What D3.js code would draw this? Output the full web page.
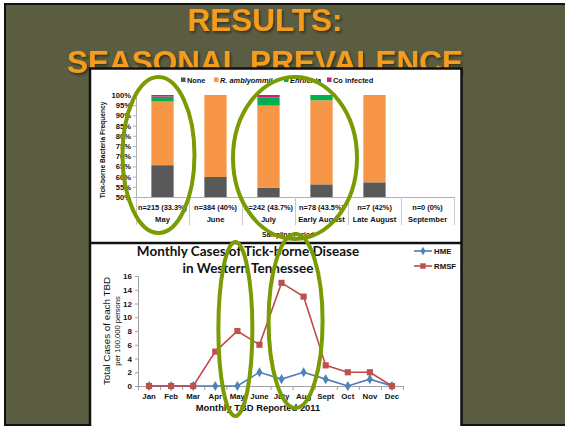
<!DOCTYPE html>
<html><head><meta charset="utf-8">
<script src="https://cdn.jsdelivr.net/npm/d3@7"></script>
<style>body{margin:0;background:#fff}svg{display:block}</style>
</head><body>
<svg id="c" width="565" height="426"></svg>
<script>
// Tick-borne bacteria frequency by sampling period (percent of ticks)
const periods = ["May", "June", "July", "Early August", "Late August", "September"];
const sampleLabels = ["n=215 (33.3%)", "n=384 (40%)", "n=242 (43.7%)", "n=78 (43.5%)", "n=7 (42%)", "n=0 (0%)"];
const noneVals = [65.6, 59.8, 54.6, 56.2, 57.2, 0];
const amblyommiiVals = [31.2, 40.2, 40.2, 41.2, 42.8, 0];
const ehrlichiaVals = [2.4, 0, 3.9, 2.6, 0, 0];
const coInfectedVals = [0.8, 0, 1.3, 0, 0, 0];
const pctTicks = [50, 55, 60, 65, 70, 75, 80, 85, 90, 95, 100];

// Monthly tick-borne disease cases, Western Tennessee 2011
const months = ["Jan", "Feb", "Mar", "Apr", "May", "June", "July", "Aug", "Sept", "Oct", "Nov", "Dec"];
const hmeCases = [0, 0, 0, 0, 0, 2, 1, 2, 1, 0, 1, 0];
const rmsfCases = [0, 0, 0, 5, 8, 6, 15, 13, 3, 2, 2, 0];
const caseTicks = [0, 2, 4, 6, 8, 10, 12, 14, 16];

const svg = d3.select("#c");
const ARIAL = "'Liberation Sans', Arial, sans-serif";
const GREEN = "#7a9b02";

// title shadow
const defs = svg.append("defs");
defs.append("filter").attr("id", "shadow").attr("x", "-5%").attr("y", "-20%").attr("width", "115%").attr("height", "150%")
  .append("feDropShadow").attr("dx", 1.5).attr("dy", 2).attr("stdDeviation", 0.8)
  .attr("flood-color", "#262716").attr("flood-opacity", 0.75);

// ---- slide background ----
svg.append("rect").attr("x", 5).attr("y", 4).attr("width", 562).attr("height", 421)
  .attr("fill", "#5b5d42").attr("stroke", "#111").attr("stroke-width", 2);

const titleLines = [{t: "RESULTS:", y: 31}, {t: "SEASONAL PREVALENCE", y: 73}];
titleLines.forEach(l => {
  svg.append("text").attr("x", 265).attr("y", l.y).attr("text-anchor", "middle")
    .attr("font-family", ARIAL).attr("font-weight", "bold").attr("font-size", 31.5)
    .attr("fill", "#f59c1d").attr("filter", "url(#shadow)").text(l.t);
});

// white panel holding both charts
svg.append("rect").attr("x", 90).attr("y", 68.5).attr("width", 371.5).attr("height", 360)
  .attr("fill", "#fff").attr("stroke", "#111").attr("stroke-width", 2.5);
svg.append("line").attr("x1", 90).attr("x2", 461.5).attr("y1", 243).attr("y2", 243)
  .attr("stroke", "#111").attr("stroke-width", 2.5);

// ================= top: stacked bar chart =================
const xTop = d3.scaleBand().domain(periods).range([136, 454]);
const yTop = d3.scaleLinear().domain([50, 100]).range([197, 95]);
const barW = xTop.bandwidth() * 0.42;

const keys = ["None", "R. amblyommii", "Ehrlichia", "Co infected"];
const colors = {"None": "#595959", "R. amblyommii": "#f79646", "Ehrlichia": "#00b050", "Co infected": "#d6197e"};
const rows = periods.map((p, i) => ({
  period: p, "None": noneVals[i], "R. amblyommii": amblyommiiVals[i],
  "Ehrlichia": ehrlichiaVals[i], "Co infected": coInfectedVals[i]
}));
const stacked = d3.stack().keys(keys)(rows);

defs.append("clipPath").attr("id", "plotTop").append("rect")
  .attr("x", 136).attr("y", yTop(100) - 1).attr("width", 318).attr("height", yTop(50) - yTop(100) + 1);

const gBars = svg.append("g").attr("clip-path", "url(#plotTop)");
stacked.forEach(s => {
  gBars.selectAll(null).data(s).join("rect")
    .attr("x", d => xTop(d.data.period) + (xTop.bandwidth() - barW) / 2)
    .attr("width", barW)
    .attr("y", d => yTop(d[1]))
    .attr("height", d => Math.max(0, yTop(d[0]) - yTop(d[1])))
    .attr("fill", colors[s.key]);
});

// y axis
const yAxisTop = d3.axisLeft(yTop).tickValues(pctTicks).tickFormat(d => d + "%").tickSize(3).tickPadding(2);
const gyT = svg.append("g").attr("transform", "translate(136,0)").call(yAxisTop);
gyT.select(".domain").attr("stroke", "#b0b0b0");
gyT.selectAll(".tick line").attr("stroke", "#b0b0b0");
gyT.selectAll("text").attr("font-family", ARIAL).attr("font-weight", "bold").attr("font-size", 7.6).attr("fill", "#111");

// category axis with two label rows and separators
svg.append("line").attr("x1", 136).attr("x2", 454).attr("y1", 197.5).attr("y2", 197.5).attr("stroke", "#b0b0b0");
const seps = periods.map(p => xTop(p)).concat([xTop.range()[1]]);
svg.selectAll(null).data(seps).join("line")
  .attr("x1", d => d + 0.5).attr("x2", d => d + 0.5).attr("y1", 197).attr("y2", 225)
  .attr("stroke", "#c8c8c8");
svg.selectAll(null).data(periods).join("text")
  .attr("x", d => xTop(d) + xTop.bandwidth() / 2).attr("y", 210).attr("text-anchor", "middle")
  .attr("font-family", ARIAL).attr("font-weight", "bold").attr("font-size", 7.4).attr("fill", "#111")
  .text((d, i) => sampleLabels[i]);
svg.selectAll(null).data(periods).join("text")
  .attr("x", d => xTop(d) + xTop.bandwidth() / 2).attr("y", 222).attr("text-anchor", "middle")
  .attr("font-family", ARIAL).attr("font-weight", "bold").attr("font-size", 7.6).attr("fill", "#111")
  .text(d => d);

svg.append("text").attr("x", 288).attr("y", 237).attr("text-anchor", "middle")
  .attr("font-family", ARIAL).attr("font-weight", "bold").attr("font-size", 6.6).attr("fill", "#111")
  .text("Sampling Period");
svg.append("text").attr("transform", "translate(105,150) rotate(-90)").attr("text-anchor", "middle")
  .attr("font-family", ARIAL).attr("font-weight", "bold").attr("font-size", 6.6).attr("fill", "#111")
  .text("Tick-borne Bacteria Frequency");

// legend
const legX = [181, 214, 284, 327];
keys.forEach((k, i) => {
  svg.append("rect").attr("x", legX[i]).attr("y", 77.5).attr("width", 4.5).attr("height", 4.5).attr("fill", colors[k]);
  svg.append("text").attr("x", legX[i] + 6).attr("y", 82.5)
    .attr("font-family", ARIAL).attr("font-weight", "bold").attr("font-size", 7.4).attr("fill", "#111")
    .attr("font-style", (k === "R. amblyommii" || k === "Ehrlichia") ? "italic" : "normal")
    .text(k);
});

// ================= bottom: line chart =================
const xB = d3.scaleBand().domain(months).range([138, 403]);
const yB = d3.scaleLinear().domain([0, 16]).range([386, 276]);
const cx = m => xB(m) + xB.bandwidth() / 2;

const gyB = svg.append("g").attr("transform", "translate(138,0)")
  .call(d3.axisLeft(yB).tickValues(caseTicks).tickSize(3).tickPadding(3));
gyB.select(".domain").attr("stroke", "#a0a0a0");
gyB.selectAll(".tick line").attr("stroke", "#a0a0a0");
gyB.selectAll("text").attr("font-family", ARIAL).attr("font-weight", "bold").attr("font-size", 8).attr("fill", "#111");

svg.append("line").attr("x1", 138).attr("x2", 403).attr("y1", 386.5).attr("y2", 386.5).attr("stroke", "#a0a0a0");
svg.selectAll(null).data(months.map(m => xB(m)).concat([403])).join("line")
  .attr("x1", d => d + 0.5).attr("x2", d => d + 0.5).attr("y1", 386).attr("y2", 390).attr("stroke", "#a0a0a0");
svg.selectAll(null).data(months).join("text")
  .attr("x", d => cx(d)).attr("y", 399).attr("text-anchor", "middle")
  .attr("font-family", ARIAL).attr("font-weight", "bold").attr("font-size", 7.8).attr("fill", "#111")
  .text(d => d);

svg.append("text").attr("x", 258).attr("y", 411).attr("text-anchor", "middle")
  .attr("font-family", ARIAL).attr("font-weight", "bold").attr("font-size", 9.4).attr("fill", "#111")
  .text("Monthly TBD Reported 2011");
svg.append("text").attr("transform", "translate(110,331) rotate(-90)").attr("text-anchor", "middle")
  .attr("font-family", ARIAL).attr("font-size", 9.8).attr("fill", "#111")
  .text("Total Cases of each TBD");
svg.append("text").attr("transform", "translate(120,331) rotate(-90)").attr("text-anchor", "middle")
  .attr("font-family", ARIAL).attr("font-size", 7.6).attr("fill", "#111")
  .text("per 100,000 persons");

svg.append("text").attr("x", 248).attr("y", 256).attr("text-anchor", "middle")
  .attr("font-family", "Lato, 'Open Sans', sans-serif").attr("font-weight", "bold").attr("font-size", 13.5).attr("fill", "#111")
  .text("Monthly Cases of Tick-borne Disease");
svg.append("text").attr("x", 248).attr("y", 273).attr("text-anchor", "middle")
  .attr("font-family", "Lato, 'Open Sans', sans-serif").attr("font-weight", "bold").attr("font-size", 13.5).attr("fill", "#111")
  .text("in Western Tennessee");

const line = d3.line().x((d, i) => cx(months[i])).y(d => yB(d));
const series = [
  {name: "HME", vals: hmeCases, stroke: "#4a7ebb", fill: "#4f81bd", shape: d3.symbolDiamond},
  {name: "RMSF", vals: rmsfCases, stroke: "#be4b48", fill: "#c0504d", shape: d3.symbolSquare}
];
series.forEach(s => {
  svg.append("path").attr("d", line(s.vals)).attr("fill", "none").attr("stroke", s.stroke).attr("stroke-width", 1.6);
});
series.forEach(s => {
  const sz = s.shape === d3.symbolSquare ? 38 : 30;
  svg.selectAll(null).data(s.vals).join("path")
    .attr("transform", (d, i) => `translate(${cx(months[i])},${yB(d)})`)
    .attr("d", d3.symbol().type(s.shape).size(sz)).attr("fill", s.fill);
});

// line legend
series.forEach((s, i) => {
  const ly = 251 + i * 15;
  svg.append("line").attr("x1", 414).attr("x2", 432).attr("y1", ly).attr("y2", ly).attr("stroke", s.stroke).attr("stroke-width", 1.6);
  svg.append("path").attr("transform", `translate(423,${ly})`)
    .attr("d", d3.symbol().type(s.shape).size(s.shape === d3.symbolSquare ? 30 : 22)).attr("fill", s.fill);
  svg.append("text").attr("x", 434).attr("y", ly + 3)
    .attr("font-family", ARIAL).attr("font-weight", "bold").attr("font-size", 7.8).attr("fill", "#111").text(s.name);
});

// ================= highlight ellipses =================
const midTop = (a, b) => (xTop(a) + xTop(b) + xTop.bandwidth()) / 2;
const rings = [
  {cx: xTop("May") + xTop.bandwidth() / 2 - 4, cy: 155, rx: 36, ry: 78},
  {cx: midTop("July", "Early August"), cy: 158, rx: 62, ry: 81},
  {cx: cx("May") - 2, cy: 329, rx: 17, ry: 87},
  {cx: (cx("July") + cx("Aug")) / 2 + 3, cy: 321, rx: 27, ry: 87}
];
svg.selectAll(null).data(rings).join("ellipse")
  .attr("cx", d => d.cx).attr("cy", d => d.cy).attr("rx", d => d.rx).attr("ry", d => d.ry)
  .attr("fill", "none").attr("stroke", GREEN).attr("stroke-width", 4);
</script>
</body></html>
